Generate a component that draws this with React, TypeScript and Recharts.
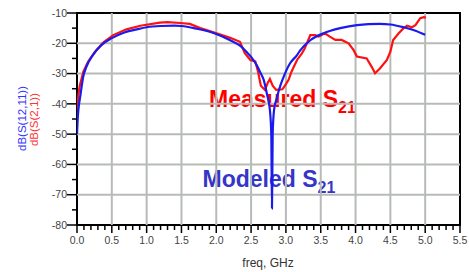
import React from "react";
import { LineChart, Line, XAxis, YAxis, ReferenceLine, ReferenceArea } from "recharts";

// Modeled S21 (blue): frequency GHz, dB
const modeledFreq = [0.0, 0.01, 0.02, 0.05, 0.09, 0.14, 0.23, 0.35, 0.5, 0.67, 0.86, 1.0, 1.2, 1.4, 1.5, 1.72, 1.96, 2.2, 2.34, 2.44, 2.5, 2.58, 2.64, 2.68, 2.73, 2.77, 2.79, 2.8, 2.81, 2.83, 2.87, 2.92, 2.96, 3.06, 3.16, 3.2, 3.35, 3.54, 3.78, 4.02, 4.35, 4.5, 4.69, 4.83, 5.0];
const modeledDb = [-50, -45, -42, -37, -31, -27.5, -23.8, -20.6, -18.3, -16.5, -15.4, -14.7, -14.3, -14.2, -14.3, -15.2, -16.6, -19, -20.8, -23, -24.5, -27.2, -30, -32, -37, -42, -50, -74.5, -50, -42, -38, -34, -31.5, -26.6, -23.9, -22.5, -19, -16.7, -15, -14, -13.6, -13.8, -14.7, -15.6, -17.2];

// Measured S21 (red)
const measuredFreq = [0.0, 0.02, 0.04, 0.09, 0.16, 0.26, 0.38, 0.52, 0.71, 0.91, 1.19, 1.3, 1.48, 1.62, 1.77, 1.96, 2.2, 2.34, 2.41, 2.49, 2.56, 2.6, 2.64, 2.7, 2.74, 2.77, 2.81, 2.86, 2.95, 3.0, 3.04, 3.08, 3.16, 3.23, 3.27, 3.35, 3.42, 3.47, 3.56, 3.63, 3.71, 3.8, 3.9, 3.97, 4.02, 4.16, 4.23, 4.28, 4.35, 4.45, 4.5, 4.54, 4.62, 4.69, 4.74, 4.81, 4.86, 4.93, 4.98, 5.01];
const measuredDb = [-42, -37, -34, -29.4, -26, -22.8, -19.7, -17.3, -15.4, -14.2, -13.2, -13.0, -13.3, -13.6, -15, -16.4, -18.2, -19.5, -23.3, -25.5, -26, -29.4, -34, -35.4, -33, -31.8, -34, -35.4, -35.2, -33.5, -32, -29.4, -25.5, -23.3, -21.7, -17.3, -17.3, -17.8, -16.7, -17.8, -18.9, -18.9, -20, -22.2, -24.4, -25, -27.7, -29.9, -28.3, -25.5, -22.8, -18.9, -16.7, -15, -14.2, -14.7, -14, -11.7, -11.4, -11.5];

const xTicks = [0, 0.1, 0.2, 0.3, 0.4, 0.5, 0.6, 0.7, 0.8, 0.9, 1.0, 1.1, 1.2, 1.3, 1.4, 1.5, 1.6, 1.7, 1.8, 1.9, 2.0, 2.1, 2.2, 2.3, 2.4, 2.5, 2.6, 2.7, 2.8, 2.9, 3.0, 3.1, 3.2, 3.3, 3.4, 3.5, 3.6, 3.7, 3.8, 3.9, 4.0, 4.1, 4.2, 4.3, 4.4, 4.5, 4.6, 4.7, 4.8, 4.9, 5.0, 5.1, 5.2, 5.3, 5.4, 5.5];
const yTicks = [-80, -75, -70, -65, -60, -55, -50, -45, -40, -35, -30, -25, -20, -15, -10];
const xGrid = [0.5, 1.0, 1.5, 2.0, 2.5, 3.0, 3.5, 4.0, 4.5, 5.0];
const yGrid = [-20, -30, -40, -50, -60, -70];

const modeledData = modeledFreq.map((f, i) => ({ f, v: modeledDb[i] }));
const measuredData = measuredFreq.map((f, i) => ({ f, v: measuredDb[i] }));

const FONT = "'Liberation Sans', Arial, sans-serif";
const GRID = "#b7bbb7";

const isMajorX = (v: number) => Math.abs(v * 2 - Math.round(v * 2)) < 1e-6;

const XTick = (props: any) => {
  const { x, y, payload } = props;
  const v = payload.value as number;
  const major = isMajorX(v);
  return (
    <g>
      <line x1={x} x2={x} y1={y} y2={y + (major ? 8 : 5)} stroke="#000" strokeWidth={1.5} />
      {major && (
        <text x={x} y={y + 18.5} textAnchor="middle" fontSize={10.5} fontFamily={FONT} fill="#444">
          {v.toFixed(1)}
        </text>
      )}
    </g>
  );
};

const YTick = (props: any) => {
  const { x, y, payload } = props;
  const v = payload.value as number;
  const major = v % 10 === 0;
  return (
    <g>
      <line x1={x - (major ? 10 : 5)} x2={x} y1={y} y2={y} stroke="#000" strokeWidth={1.5} />
      {major && (
        <text x={x - 10} y={y} dy="0.35em" textAnchor="end" fontSize={10.5} fontFamily={FONT} fill="#444">
          {v}
        </text>
      )}
    </g>
  );
};

export default function App() {
  return (
    <div style={{ position: "absolute", left: 0, top: 0, width: 469, height: 272, background: "#fff" }}>
      <LineChart width={469} height={272} margin={{ top: 13, right: 9, bottom: 0, left: 0 }}>
        <XAxis
          type="number"
          dataKey="f"
          domain={[0, 5.5]}
          ticks={xTicks}
          interval={0}
          allowDataOverflow
          height={47}
          tickSize={0}
          tickMargin={0}
          axisLine={false}
          tickLine={false}
          tick={<XTick />}
        />
        <YAxis
          type="number"
          domain={[-80, -10]}
          ticks={yTicks}
          interval={0}
          allowDataOverflow
          width={77}
          tickSize={0}
          tickMargin={0}
          axisLine={false}
          tickLine={false}
          tick={<YTick />}
        />
        {xGrid.map((g) => (
          <ReferenceLine key={"x" + g} x={g} stroke={GRID} strokeWidth={2} />
        ))}
        {yGrid.map((g) => (
          <ReferenceLine key={"y" + g} y={g} stroke={GRID} strokeWidth={2} />
        ))}
        <Line data={measuredData} dataKey="v" type="linear" stroke="#ff1010" strokeWidth={2.2} dot={false} isAnimationActive={false} />
        <Line data={modeledData} dataKey="v" type="monotone" stroke="#1a1aee" strokeWidth={2.2} dot={false} isAnimationActive={false} />
        <ReferenceArea x1={0} x2={5.5} y1={-80} y2={-10} fill="none" fillOpacity={0} stroke="#000" strokeWidth={2} />
        <text x={209} y={107} fontFamily={FONT} fontWeight="bold" fontSize={23} fill="#ff0000">
          Measured S<tspan fontSize={16} dy={6}>21</tspan>
        </text>
        <text x={202.5} y={186.7} fontFamily={FONT} fontWeight="bold" fontSize={23} fill="#3535c8">
          Modeled S<tspan fontSize={16} dy={6}>21</tspan>
        </text>
        <text x={268} y={267} textAnchor="middle" fontFamily={FONT} fontSize={12} fill="#333">
          freq, GHz
        </text>
        <text x={22} y={118.5} transform="rotate(-90 22 118.5)" textAnchor="middle" dominantBaseline="central" fontFamily={FONT} fontSize={11.5} fill="#3333ff">
          dB(S(12,11))
        </text>
        <text x={34} y={119.5} transform="rotate(-90 34 119.5)" textAnchor="middle" dominantBaseline="central" fontFamily={FONT} fontSize={11.5} fill="#ff3333">
          dB(S(2,1))
        </text>
      </LineChart>
    </div>
  );
}
